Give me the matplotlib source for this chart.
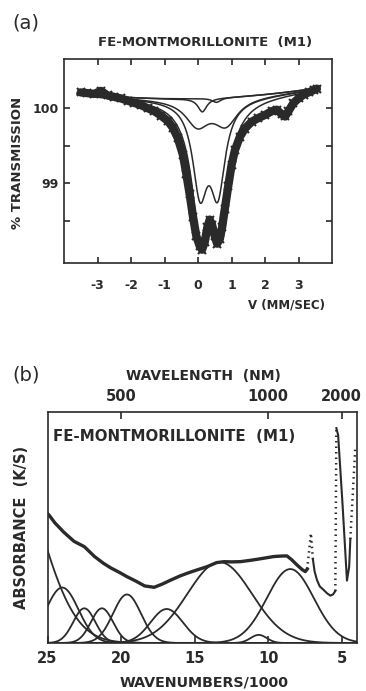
import numpy as np
import matplotlib
matplotlib.use('Agg')
import matplotlib.pyplot as plt

plt.rcParams['font.family'] = ['DejaVu Sans']
plt.rcParams['axes.unicode_minus'] = False
INK = '#2a2a2a'

# ---- (a) Mossbauer spectrum, Fe-montmorillonite (M1)
vel = [-3.5, -3.3, -3.1, -2.9, -2.7, -2.5, -2.3, -2.1, -1.9, -1.7, -1.5, -1.3,
       -1.1, -0.9, -0.75, -0.6, -0.45, -0.35, -0.25, -0.15, -0.05, 0.05, 0.12,
       0.2, 0.28, 0.35, 0.42, 0.5, 0.57, 0.65, 0.72, 0.8, 0.9, 1.0, 1.1, 1.25,
       1.4, 1.6, 1.8, 2.0, 2.2, 2.35, 2.5, 2.6, 2.7, 2.85, 3.0, 3.15, 3.3, 3.45, 3.55]
trans = [100.21, 100.2, 100.19, 100.23, 100.17, 100.15, 100.13, 100.1, 100.07,
         100.04, 100.0, 99.96, 99.9, 99.83, 99.74, 99.6, 99.38, 99.13, 98.86,
         98.56, 98.3, 98.17, 98.12, 98.22, 98.42, 98.52, 98.45, 98.3, 98.2, 98.26,
         98.42, 98.66, 98.96, 99.24, 99.44, 99.62, 99.73, 99.82, 99.87, 99.91, 99.96,
         99.98, 99.92, 99.89, 99.96, 100.07, 100.13, 100.18, 100.21, 100.24, 100.26]

baseline_v = [-4.0, 0.0, 4.0]
baseline_t = [100.22, 100.13, 100.30]
# fitted sub-spectra: line positions (mm/s), depths (%), half widths (mm/s)
comp_pos = [[0.13], [0.55], [-0.02, 0.83], [0.06, 0.59]]
comp_depth = [[0.18], [0.06], [0.336, 0.336], [1.152, 1.152]]
comp_hw = [0.16, 0.16, 0.43, 0.268]

# ---- (b) reflectance spectrum
meas_wn = [25.0, 24.9, 24.5, 23.9, 23.2, 22.5, 21.8, 21.2, 20.7, 20.1, 19.6, 19.0,
           18.4, 17.75, 17.2, 16.6, 16.0, 15.5, 14.9, 14.17, 13.5, 13.0, 12.5,
           11.9, 11.3, 10.77, 10.2, 9.64, 9.2, 8.73, 8.4, 8.05, 7.7, 7.48, 7.35,
           7.1, 6.96,
           6.85, 6.69, 6.5, 6.24, 6.0, 5.78, 5.6, 5.44,
           5.37,
           5.25, 4.95, 4.65, 4.5, 4.42,
           4.08]
meas_abs = [0.56, 0.554, 0.52, 0.48, 0.44, 0.417, 0.374, 0.345, 0.325, 0.305, 0.287,
            0.268, 0.247, 0.241, 0.255, 0.273, 0.29, 0.302, 0.315, 0.33, 0.348,
            0.352, 0.351, 0.352, 0.357, 0.362, 0.368, 0.374, 0.376, 0.377, 0.36,
            0.338, 0.318, 0.309, 0.32,
            0.475, 0.36,
            0.31, 0.273, 0.245, 0.23, 0.215, 0.205, 0.21, 0.225,
            0.93,
            0.9, 0.6, 0.27, 0.33, 0.45,
            0.85]
# (first index, last index, kind) pieces of the measured curve
meas_pieces = [(0, 34, 'thick'), (34, 36, 'dots'), (36, 44, 'thin'),
               (44, 45, 'dots'), (45, 50, 'thin'), (50, 51, 'dots')]

band_center = [28.0, 24.0, 22.5, 21.3, 19.6, 16.9, 13.3, 10.65, 8.5]
band_sigma = [2.45, 1.1, 0.75, 0.75, 0.95, 1.1, 2.2, 0.55, 1.6]
band_height = [0.85, 0.24, 0.15, 0.15, 0.21, 0.147, 0.35, 0.035, 0.32]

nm_ticks = [500, 1000, 2000]
wn_ticks = [25, 20, 15, 10, 5]

fig = plt.figure(figsize=(3.66, 6.91), dpi=100)

# ---------------- panel (a)
ax = fig.add_axes([0.1749, 0.619, 0.7322, 0.2952])
v = np.linspace(-3.6, 3.6, 600)
base = np.polyval(np.polyfit(baseline_v, baseline_t, 2), v)
total = base.copy()
for pos, dep, hw in zip(comp_pos, comp_depth, comp_hw):
    absn = np.zeros_like(v)
    for p, d in zip(pos, dep):
        absn += d / (1 + ((v - p) / hw) ** 2)
    ax.plot(v, base - absn, color=INK, lw=1.1, zorder=2)
    total -= absn
ax.plot(v, total, color=INK, lw=1.1, zorder=4)
ax.plot(vel, trans, color=INK, lw=6.0, solid_joinstyle='round',
        solid_capstyle='round', zorder=3)
ax.plot(vel, trans, ls='none', marker='x', ms=5.5, mew=1.5, color=INK, zorder=3)

ax.set_xlim(-4, 4)
ax.set_ylim(97.94, 100.65)
ax.set_xticks([-3, -2, -1, 0, 1, 2, 3])
ax.set_xticklabels(['-3', '-2', '-1', '0', '1', '2', '3'])
ax.set_yticks([98.5, 99, 99.5, 100])
ax.set_yticklabels(['', '99', '', '100'])
ax.tick_params(direction='in', length=4, width=1.2, color=INK,
               top=True, right=True, labelsize=9, labelcolor=INK)
ax.tick_params(axis='x', pad=11)
ax.tick_params(axis='y', pad=4)
for lab in ax.get_xticklabels() + ax.get_yticklabels():
    lab.set_fontweight('bold')
for s in ax.spines.values():
    s.set_linewidth(1.2)
    s.set_color(INK)

fig.text(0.033, 0.967, '(a)', fontsize=14, color=INK, va='center', ha='left')
fig.text(0.560, 0.9378, 'FE-MONTMORILLONITE  (M1)', fontsize=9.5,
         fontweight='bold', color=INK, ha='center', va='center')
fig.text(0.049, 0.764, '% TRANSMISSION', fontsize=9.5, fontweight='bold',
         color=INK, rotation=90, ha='center', va='center')
fig.text(0.888, 0.5586, 'V (MM/SEC)', fontsize=8.5, fontweight='bold',
         color=INK, ha='right', va='center')

# ---------------- panel (b)
bx = fig.add_axes([0.1298, 0.0695, 0.8443, 0.3343])
w = np.linspace(25, 4, 800)
for c, s, h in zip(band_center, band_sigma, band_height):
    bx.plot(w, h * np.exp(-0.5 * ((w - c) / s) ** 2), color=INK, lw=1.3)

for i0, i1, kind in meas_pieces:
    xs = meas_wn[i0:i1 + 1]
    ys = meas_abs[i0:i1 + 1]
    if kind == 'thick':
        bx.plot(xs, ys, color=INK, lw=2.4, solid_joinstyle='round')
    elif kind == 'thin':
        bx.plot(xs, ys, color=INK, lw=1.5)
    else:
        bx.plot(xs, ys, color=INK, lw=1.8, ls=(0, (0.6, 1.6)))

bx.set_xlim(25, 4)
bx.set_ylim(0, 1)
bx.set_yticks([])
bx.set_xticks(wn_ticks)
bx.set_xticklabels([str(t) for t in wn_ticks])
bx.tick_params(axis='x', direction='in', length=5, width=1.2, color=INK,
               labelsize=10.5, pad=6, labelcolor=INK)
for lab in bx.get_xticklabels():
    lab.set_fontweight('bold')
top = bx.secondary_xaxis('top', functions=(lambda x: 1e4 / x, lambda x: 1e4 / x))
top.set_xticks(nm_ticks)
top.set_xticklabels([str(t) for t in nm_ticks])
top.tick_params(direction='in', length=5, width=1.2, color=INK,
                labelsize=10.5, pad=6, labelcolor=INK)
for lab in top.get_xticklabels():
    lab.set_fontweight('bold')
top.spines['top'].set_visible(False)
for s in bx.spines.values():
    s.set_linewidth(1.2)
    s.set_color(INK)

bx.text(0.018, 0.892, 'FE-MONTMORILLONITE  (M1)', transform=bx.transAxes,
        fontsize=10.8, fontweight='bold', color=INK, ha='left', va='center')
fig.text(0.033, 0.457, '(b)', fontsize=14, color=INK, va='center', ha='left')
fig.text(0.5546, 0.4559, 'WAVELENGTH  (NM)', fontsize=10, fontweight='bold',
         color=INK, ha='center', va='center')
fig.text(0.060, 0.2373, 'ABSORBANCE  (K/S)', fontsize=10.5, fontweight='bold',
         color=INK, rotation=90, ha='center', va='center')
fig.text(0.557, 0.013, 'WAVENUMBERS/1000', fontsize=10.3, fontweight='bold',
         color=INK, ha='center', va='center')

fig.savefig('out.png', dpi=100, facecolor='white')
